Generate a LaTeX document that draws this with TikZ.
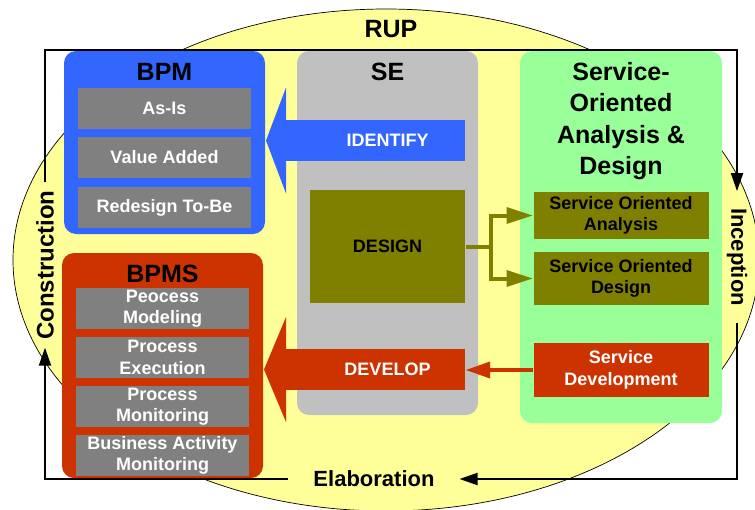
\documentclass[tikz,border=0pt]{standalone}
\usepackage{fontspec}
\setmainfont{Liberation Sans}
\usetikzlibrary{arrows.meta,positioning,calc}

\definecolor{rupyellow}{HTML}{FFFF99}
\definecolor{bpmblue}{HTML}{3366FF}
\definecolor{bpmsred}{HTML}{CC3300}
\definecolor{seolive}{HTML}{808000}
\definecolor{itemgray}{HTML}{808080}
\definecolor{segray}{HTML}{C0C0C0}
\definecolor{soagreen}{HTML}{99FF99}

\newcommand{\bigfont}{\fontsize{25}{31.6}\selectfont\bfseries}
\newcommand{\smallfont}{\fontsize{18}{21.5}\selectfont\bfseries}
\newcommand{\phasefont}{\fontsize{22}{26}\selectfont\bfseries}

\begin{document}
\begin{tikzpicture}[x=1pt,y=-1pt,>={Triangle[length=18pt,width=12pt]},
                    line width=2pt]

  \tikzstyle{group}=[rounded corners=12pt,inner sep=0pt]
  \tikzstyle{heading}=[inner sep=0pt,font=\bigfont,align=center]
  \tikzstyle{item}=[fill=itemgray,text=white,font=\smallfont,align=center,
                    minimum width=173pt,minimum height=41pt,inner sep=0pt]
  \tikzstyle{task}=[minimum width=155pt,inner sep=0pt,font=\smallfont,align=center]
  \tikzstyle{soa}=[minimum width=175pt,inner sep=0pt,font=\smallfont,align=center]
  \tikzstyle{phase}=[inner ysep=0pt,font=\phasefont]

  \useasboundingbox (0,0) rectangle (755,509);
  \fill[rupyellow,draw=black,line width=0.7pt] (386,260) ellipse [x radius=373, y radius=251];

  % RUP cycle
  \coordinate (tl) at (45,50);
  \coordinate (tr) at (737,50);
  \coordinate (br) at (737,479);
  \coordinate (bl) at (45,479);
  \node[inner sep=0pt,font=\bigfont] (rup) at (391,29) {RUP};
  \node[phase,rotate=90,inner xsep=7pt,font=\fontsize{24}{28}\selectfont\bfseries]
       (construction) at (45,265) {Construction};
  \node[phase,rotate=-90,inner xsep=16pt] (inception)   at (737,257) {Inception};
  \node[phase,inner xsep=24pt]            (elaboration) at (374,479) {Elaboration};

  \draw[->] (construction.east) -- (tl) -- (tr) -- (inception.west);
  \draw[->] (inception.east) -- (br) -- (elaboration.east);
  \draw[->] (elaboration.west) -- (bl) -- (construction.west);

  % BPM
  \node[group,fill=bpmblue,minimum width=201pt,minimum height=183pt] (bpm) at (164.5,142.5) {};
  \node[heading,below=12pt of bpm.north] (bpmhead) {BPM};
  \node[item,below=37pt of bpm.north] (asis)       {As-Is};
  \node[item,below=6pt of asis]       (valueadded) {Value Added};
  \node[item,below=7pt of valueadded] (redesign)   {Redesign To-Be};

  % BPMS
  \node[group,fill=bpmsred,minimum width=201pt,minimum height=225pt] (bpms) at (162.5,365.5) {};
  \node[heading,below=12pt of bpms.north] (bpmshead) {BPMS};
  \node[item,below=35pt of bpms.north] (modeling)   {Peocess\\Modeling};
  \node[item,below=6pt of modeling]    (execution)  {Process\\Execution};
  \node[item,below=6pt of execution]   (monitoring) {Process\\Monitoring};
  \node[item,below=6pt of monitoring]  (bam)        {Business Activity\\Monitoring};

  % SE
  \node[group,fill=segray,minimum width=181pt,minimum height=364pt] (se) at (387.5,233) {};
  \node[heading,below=12pt of se.north] (sehead) {SE};
  \node[task,fill=bpmblue,text=white,minimum height=41pt,below=69pt of se.north] (identify) {IDENTIFY};
  \node[task,fill=seolive,minimum height=113pt,below=27pt of identify]           (design)   {DESIGN};
  \node[task,fill=bpmsred,text=white,minimum height=41pt,below=44pt of design]    (develop)  {DEVELOP};

  % Service-Oriented Analysis & Design
  \node[group,fill=soagreen,minimum width=202pt,minimum height=372pt] (soad) at (621,237) {};
  \node[heading,below=11pt of soad.north] (soadhead) {Service-\\Oriented\\Analysis \&\\Design};
  \node[soa,fill=seolive,minimum height=47pt,below=141pt of soad.north] (soanalysis) {Service Oriented\\Analysis};
  \node[soa,fill=seolive,minimum height=53pt,below=11pt of soanalysis]  (sodesign)   {Service Oriented\\Design};
  \node[soa,fill=bpmsred,text=white,minimum height=54pt,below=36pt of sodesign] (sodevelop) {Service\\Development};

  % big arrows into BPM / BPMS
  \draw[bpmblue,line width=41pt,shorten <=-2pt,-{Triangle[length=20pt,width=106pt,line width=0pt]}]
    (identify.west) -- (identify.west -| bpm.east);
  \draw[bpmsred,line width=41pt,shorten <=-2pt,-{Triangle[length=22pt,width=105pt,line width=0pt]}]
    (develop.west) -- (develop.west -| bpms.east);

  % DESIGN fork
  \coordinate (fork) at ($(design.east)+(25,0)$);
  \draw[seolive,line width=4pt,-{Triangle[length=26pt,width=17pt,line width=0pt]}]
    (design.east) -- (fork) |- (soanalysis.west);
  \draw[seolive,line width=4pt,-{Triangle[length=26pt,width=17pt,line width=0pt]}]
    (fork) |- (sodesign.west);
  %\draw[seolive,line width=4pt] (design.east) -| (sodesign.west);

  \draw[bpmsred,line width=4pt,-{Triangle[length=24pt,width=17pt,line width=0pt]}]
    (sodevelop.west) -- (sodevelop.west -| develop.east);

\end{tikzpicture}
\end{document}
